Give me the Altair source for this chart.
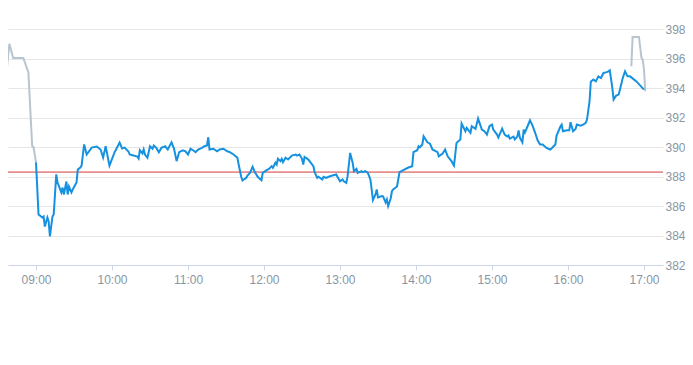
import altair as alt
import pandas as pd

# Regular session (blue)
blue_times = [
    "09:00", "09:02", "09:05", "09:06", "09:07", "09:09", "09:10", "09:11", "09:13", "09:14",
    "09:16", "09:17", "09:20", "09:21", "09:22", "09:24", "09:25", "09:26", "09:28", "09:29",
    "09:32", "09:33", "09:35", "09:36", "09:38", "09:40", "09:44", "09:48", "09:51", "09:53",
    "09:55", "09:58", "10:02", "10:06", "10:08", "10:10", "10:13", "10:14", "10:17", "10:20",
    "10:21", "10:22", "10:24", "10:25", "10:26", "10:28", "10:30", "10:32", "10:33", "10:35",
    "10:37", "10:39", "10:42", "10:44", "10:47", "10:49", "10:51", "10:53", "10:56", "10:58",
    "10:59", "11:00", "11:02", "11:04", "11:06", "11:08", "11:11", "11:13", "11:15", "11:16",
    "11:17", "11:20", "11:23", "11:25", "11:28", "11:31", "11:33", "11:36", "11:39", "11:40",
    "11:42", "11:43", "11:46", "11:47", "11:49", "11:50", "11:51", "11:53", "11:54", "11:55",
    "11:58", "11:59", "12:01", "12:02", "12:04", "12:06", "12:07", "12:09", "12:10", "12:11",
    "12:13", "12:14", "12:15", "12:17", "12:19", "12:22", "12:25", "12:26", "12:28", "12:30",
    "12:31", "12:32", "12:35", "12:37", "12:39", "12:40", "12:42", "12:43", "12:46", "12:47",
    "12:49", "12:51", "12:54", "12:57", "12:58", "13:00", "13:02", "13:03", "13:05", "13:06",
    "13:08", "13:10", "13:11", "13:13", "13:14", "13:17", "13:18", "13:20", "13:22", "13:24",
    "13:25", "13:26", "13:28", "13:29", "13:30", "13:33", "13:34", "13:36", "13:37", "13:38",
    "13:40", "13:41", "13:42", "13:43", "13:45", "13:47", "13:50", "13:54", "13:57", "13:58",
    "14:01", "14:02", "14:03", "14:05", "14:06", "14:09", "14:11", "14:13", "14:17", "14:18",
    "14:21", "14:23", "14:25", "14:28", "14:30", "14:32", "14:35", "14:36", "14:39", "14:40",
    "14:43", "14:44", "14:47", "14:49", "14:52", "14:54", "14:56", "14:58", "15:00", "15:01",
    "15:04", "15:05", "15:08", "15:10", "15:12", "15:13", "15:14", "15:17", "15:18", "15:20",
    "15:21", "15:22", "15:24", "15:25", "15:26", "15:28", "15:30", "15:32", "15:34", "15:36",
    "15:38", "15:40", "15:43", "15:46", "15:47", "15:50", "15:51", "15:54", "15:55", "15:56",
    "15:59", "16:01", "16:02", "16:04", "16:06", "16:07", "16:10", "16:12", "16:14", "16:15",
    "16:17", "16:18", "16:20", "16:22", "16:24", "16:26", "16:28", "16:30", "16:32", "16:33",
    "16:35", "16:36", "16:38", "16:40", "16:42", "16:43", "16:45", "16:47", "16:49", "16:54",
    "17:00",
]
blue_values = [
    388.97, 385.43, 385.22, 385.29, 384.61, 385.22, 384.95, 383.94, 385.29, 385.43,
    388.14, 387.59, 386.92, 387.25, 386.78, 387.66, 386.78, 387.32, 386.92, 387.12,
    387.59, 388.47, 388.61, 388.74, 390.17, 389.49, 389.96, 390.03, 389.83, 389.29,
    390.05, 388.74, 389.63, 390.30, 389.90, 389.96, 389.69, 389.49, 389.42, 389.35,
    389.22, 389.78, 389.56, 389.83, 389.49, 389.27, 390.05, 389.88, 390.10, 389.94,
    389.65, 389.94, 390.05, 389.83, 390.32, 389.88, 389.04, 389.65, 389.78, 389.71,
    389.60, 389.49, 389.88, 389.78, 389.65, 389.83, 389.94, 390.05, 390.10, 390.66,
    389.83, 389.88, 389.71, 389.83, 389.88, 389.71, 389.65, 389.49, 389.27, 388.81,
    387.98, 387.73, 387.91, 388.07, 388.25, 388.47, 388.66, 388.25, 388.14, 387.98,
    387.75, 388.25, 388.36, 388.43, 388.52, 388.70, 388.59, 388.93, 388.81, 389.20,
    389.04, 389.20, 388.97, 389.27, 389.15, 389.42, 389.49, 389.42, 389.49, 389.20,
    388.81, 389.33, 389.15, 388.93, 388.70, 388.29, 387.91, 387.98, 387.80, 387.98,
    387.91, 387.98, 388.07, 388.14, 387.98, 387.68, 387.80, 387.68, 387.57, 388.02,
    389.60, 388.93, 388.36, 388.52, 388.25, 388.36, 388.29, 388.36, 388.25, 387.80,
    387.12, 386.40, 386.78, 387.12, 386.58, 386.67, 386.65, 386.24, 386.44, 385.99,
    386.51, 387.00, 387.12, 387.19, 387.32, 388.29, 388.43, 388.61, 388.70, 389.65,
    389.78, 390.05, 389.98, 390.17, 390.73, 390.32, 390.23, 389.83, 389.65, 389.37,
    389.56, 389.83, 389.37, 389.04, 388.74, 390.28, 390.51, 391.59, 391.07, 391.30,
    390.96, 391.41, 391.23, 391.93, 391.18, 391.07, 390.84, 391.41, 391.52, 391.18,
    390.84, 390.64, 391.25, 390.84, 390.71, 390.78, 390.57, 390.71, 390.51, 390.71,
    391.13, 390.64, 390.32, 391.18, 390.98, 391.39, 391.81, 391.45, 390.98, 390.46,
    390.17, 390.17, 389.94, 389.83, 389.90, 390.17, 390.78, 391.39, 391.52, 391.07,
    391.13, 391.13, 391.68, 391.07, 391.23, 391.52, 391.45, 391.52, 391.64, 391.86,
    393.10, 394.43, 394.57, 394.45, 394.79, 394.68, 395.02, 395.06, 395.13, 395.20,
    394.01, 393.21, 393.48, 393.55, 394.23, 394.61, 395.13, 394.79, 394.79, 394.45,
    393.89,
]

# Pre-market and after-hours (grey)
pre_times = ["08:32", "08:39", "08:42", "08:50", "08:54", "08:57", "08:58", "09:00"]
pre_values = [391.18, 397.00, 396.04, 396.04, 395.06, 390.05, 390.00, 388.97]
post_times = ["16:50", "16:51", "16:56", "16:58", "16:59", "17:00", "17:01"]
post_values = [395.47, 397.46, 397.46, 396.04, 395.92, 395.24, 393.78]

# Previous close reference line
ref_value = [388.3]

x_ticks = ["09:00", "10:00", "11:00", "12:00", "13:00", "14:00", "15:00", "16:00", "17:00"]
y_ticks = [382, 384, 386, 388, 390, 392, 394, 396, 398]
x_range = ["08:37.9", "17:15.0"]


def to_min(t):
    h, m = t.split(":")
    return int(h) * 60 + float(m)


blue_df = pd.DataFrame({"minute": [to_min(t) for t in blue_times], "value": blue_values})
ext_df = pd.DataFrame({
    "minute": [to_min(t) for t in pre_times] + [to_min(t) for t in post_times],
    "value": pre_values + post_values,
    "session": ["pre"] * len(pre_times) + ["post"] * len(post_times),
})
ref_df = pd.DataFrame({"value": ref_value})

label_color = "#8a96a3"
font = "Liberation Sans"

xscale = alt.Scale(domain=[to_min(x_range[0]), to_min(x_range[1])], nice=False, zero=False)
yscale = alt.Scale(domain=[y_ticks[0], y_ticks[-1]], nice=False, zero=False)

x_enc = alt.X(
    "minute:Q",
    scale=xscale,
    axis=alt.Axis(
        values=[to_min(t) for t in x_ticks],
        labelExpr="(datum.value < 600 ? '0' : '') + floor(datum.value / 60) + ':00'",
        grid=False,
        domainColor="#ccd6eb",
        tickColor="#ccd6eb",
        tickSize=5,
        labelPadding=4,
        labelColor=label_color,
        labelFont=font,
        labelFontSize=12,
        title=None,
    ),
)
y_enc = alt.Y(
    "value:Q",
    scale=yscale,
    axis=alt.Axis(
        orient="right",
        values=y_ticks,
        grid=True,
        gridColor="#e6e6e6",
        domain=False,
        ticks=False,
        labelPadding=2,
        labelColor=label_color,
        labelFont=font,
        labelFontSize=12,
        title=None,
    ),
)

rule = alt.Chart(ref_df).mark_rule(color="#d23a3a", strokeWidth=1).encode(y=y_enc)

grey = alt.Chart(ext_df).mark_line(color="#b8c5d0", strokeWidth=2, clip=True).encode(
    x=x_enc, y=y_enc, detail="session:N"
)

blue = alt.Chart(blue_df).mark_line(color="#1591e0", strokeWidth=2, clip=True).encode(
    x=x_enc, y=y_enc
)

chart = (
    alt.layer(rule, grey, blue)
    .properties(
        width=655,
        height=236,
        autosize=alt.AutoSizeParams(type="none"),
        padding={"left": 0, "top": 21, "right": 22, "bottom": 92},
    )
    .configure_view(stroke=None)
)

chart.save("out.html", embed_options={"renderer": "svg", "actions": False})
